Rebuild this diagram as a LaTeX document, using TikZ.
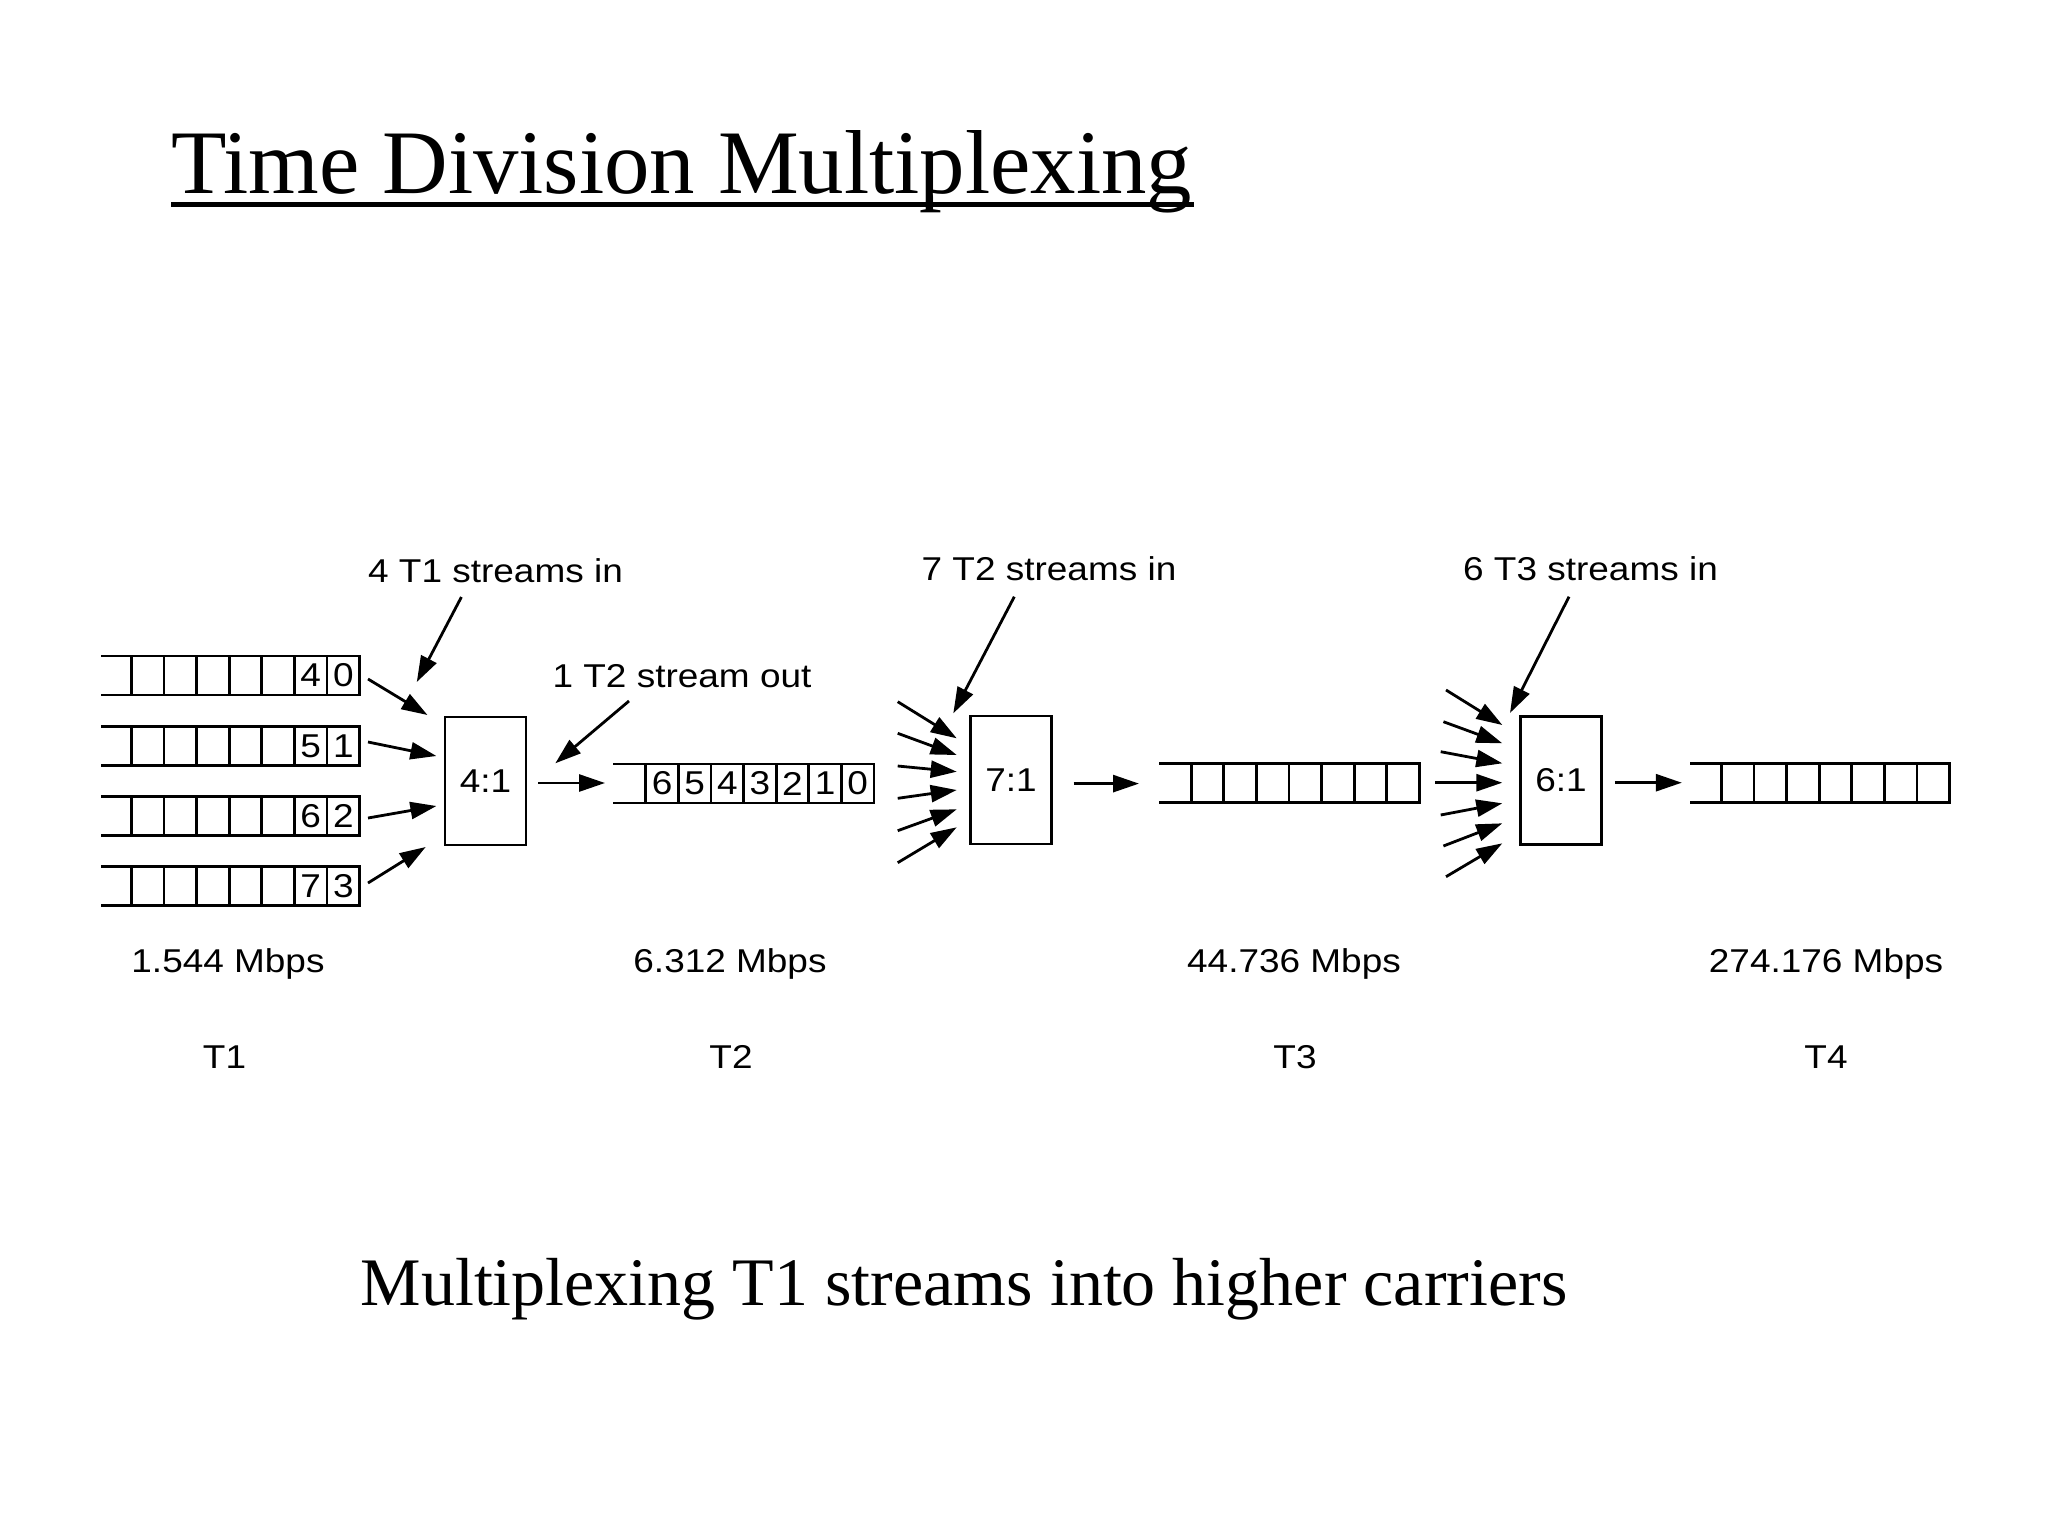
\documentclass[tikz,border=0pt]{standalone}
\usepackage{fontspec}
\setmainfont{Liberation Serif}
\newfontfamily\diagfont[FakeStretch=1.12]{Liberation Sans}
\usetikzlibrary{arrows.meta}
\newcommand\tdmbuf[4]{%
  \draw[bufline] ({#1},{#3}) -- ({#2},{#3});
  \draw[bufline] ({#1},{#4}) -- ({#2},{#4});
  \foreach \k in {0,...,7}{\draw[bufline] ({#2-\k*32.6},{#3}) -- ({#2-\k*32.6},{#4});}
}
\begin{document}
\begin{tikzpicture}[x=0.5pt,y=-0.5pt,
  bufline/.style={line width=1.4pt, line cap=rect},
  arr/.style={line width=1.4pt, -{Triangle[length=13pt,width=8.5pt]}},
  lab/.style={font=\diagfont\fontsize{16.5}{18}\selectfont, inner sep=0pt, anchor=base},
  dig/.style={font=\diagfont\fontsize{16.5}{18}\selectfont, inner sep=0pt},
  mux/.style={draw, line width=1.4pt, minimum width=40.5pt, minimum height=64pt, inner sep=0pt,
    font=\diagfont\fontsize{16.5}{18}\selectfont}]
\useasboundingbox (0,0) rectangle (2048,1536);
\fill[white] (0,0) rectangle (2048,1536);

% title
\node[anchor=base west, inner sep=0pt, font=\fontsize{45.4}{54}\selectfont] (title) at (171,193) {Time Division Multiplexing};
\draw[line width=2.5pt] (171,204.2) -- (1194,204.2);

% subtitle
\node[anchor=base, inner sep=0pt, font=\fontsize{34}{40}\selectfont] (sub) at (964,1305) {Multiplexing T1 streams into higher carriers};

% T1 buffers
\foreach \r/\yt/\da/\db in {1/656/4/0, 2/726.5/5/1, 3/796.5/6/2, 4/866.5/7/3}{
  \tdmbuf{102.5}{359.6}{\yt}{\yt+39}
  \node[dig] (t1r\r a) at ({359.6-1.5*32.6},{\yt+19.5}) {\da};
  \node[dig] (t1r\r b) at ({359.6-0.5*32.6},{\yt+19.5}) {\db};
}

% T2 buffer
\tdmbuf{614.5}{874}{764}{803}
\foreach \d in {0,...,6}{
  \node[dig] (t2c\d) at ({874-(\d+0.5)*32.6},783.5) {\d};
}

% T3, T4 buffers
\tdmbuf{1160.5}{1419.3}{763.5}{802.5}
\tdmbuf{1691.4}{1949.6}{763.5}{802.5}

% multiplexers
\node[mux] (m1) at (485.5,781) {4:1};
\node[mux] (m2) at (1011,780) {7:1};
\node[mux] (m3) at (1561,780.5) {6:1};

% labels
\node[lab] (l1) at (495.5,582) {4 T1 streams in};
\node[lab] (l2) at (682,687) {1 T2 stream out};
\node[lab] (l3) at (1049,580) {7 T2 streams in};
\node[lab] (l4) at (1590.5,580) {6 T3 streams in};

\node[lab] (r1) at (228,972) {1.544 Mbps};
\node[lab] (r2) at (730,972) {6.312 Mbps};
\node[lab] (r3) at (1294,972) {44.736 Mbps};
\node[lab] (r4) at (1826,972) {274.176 Mbps};

\node[lab] (n1) at (224.5,1068) {T1};
\node[lab] (n2) at (731,1068) {T2};
\node[lab] (n3) at (1295,1068) {T3};
\node[lab] (n4) at (1826,1068) {T4};

% arrows into 4:1
\foreach \i/\xa/\ya/\xb/\yb in {1/368/679/427.5/715, 2/368/742/436.4/756, 3/368/818/436.4/806, 4/368/883/425.7/847}{
  \coordinate (a\i s) at (\xa,\ya);
  \coordinate (a\i e) at (\xb,\yb);
  \draw[arr] (a\i s) -- (a\i e);
}
% arrows into 7:1
\foreach \i/\ya/\yb in {1/701.7/738.3, 2/733.3/755, 3/766/771.7, 4/798.3/790, 5/830.7/809.3, 6/862.7/827.3}{
  \coordinate (b\i s) at (897.7,\ya);
  \coordinate (b\i e) at (956.7,\yb);
  \draw[arr] (b\i s) -- (b\i e);
}
% arrows into 6:1
\foreach \i/\xa/\ya/\yb in {1/1446/690/725, 2/1443.4/721.7/743.3, 3/1440.7/751.7/763.3, 4/1435.4/782.7/782.7, 5/1440.7/815/803.3, 6/1443.4/846/823.3, 7/1446/876.7/843.3}{
  \coordinate (c\i s) at (\xa,\ya);
  \coordinate (c\i e) at (1502.3,\yb);
  \draw[arr] (c\i s) -- (c\i e);
}

% label pointers
\coordinate (p1s) at (461.4,597);   \coordinate (p1e) at (416.8,682);
\coordinate (p2s) at (629,701);     \coordinate (p2e) at (555.3,763.3);
\coordinate (p3s) at (1014.3,596.7);\coordinate (p3e) at (953.3,713.3);
\coordinate (p4s) at (1569,596.7);  \coordinate (p4e) at (1510,713);
\draw[arr] (p1s) -- (p1e);
\draw[arr] (p2s) -- (p2e);
\draw[arr] (p3s) -- (p3e);
\draw[arr] (p4s) -- (p4e);

% outputs
\coordinate (o1s) at (538,783);    \coordinate (o1e) at (605,783);
\coordinate (o2s) at (1073.6,783.6);\coordinate (o2e) at (1139,783.6);
\coordinate (o3s) at (1614.8,782.7);\coordinate (o3e) at (1681.8,782.7);
\draw[arr] (o1s) -- (o1e);
\draw[arr] (o2s) -- (o2e);
\draw[arr] (o3s) -- (o3e);
\end{tikzpicture}
\end{document}
